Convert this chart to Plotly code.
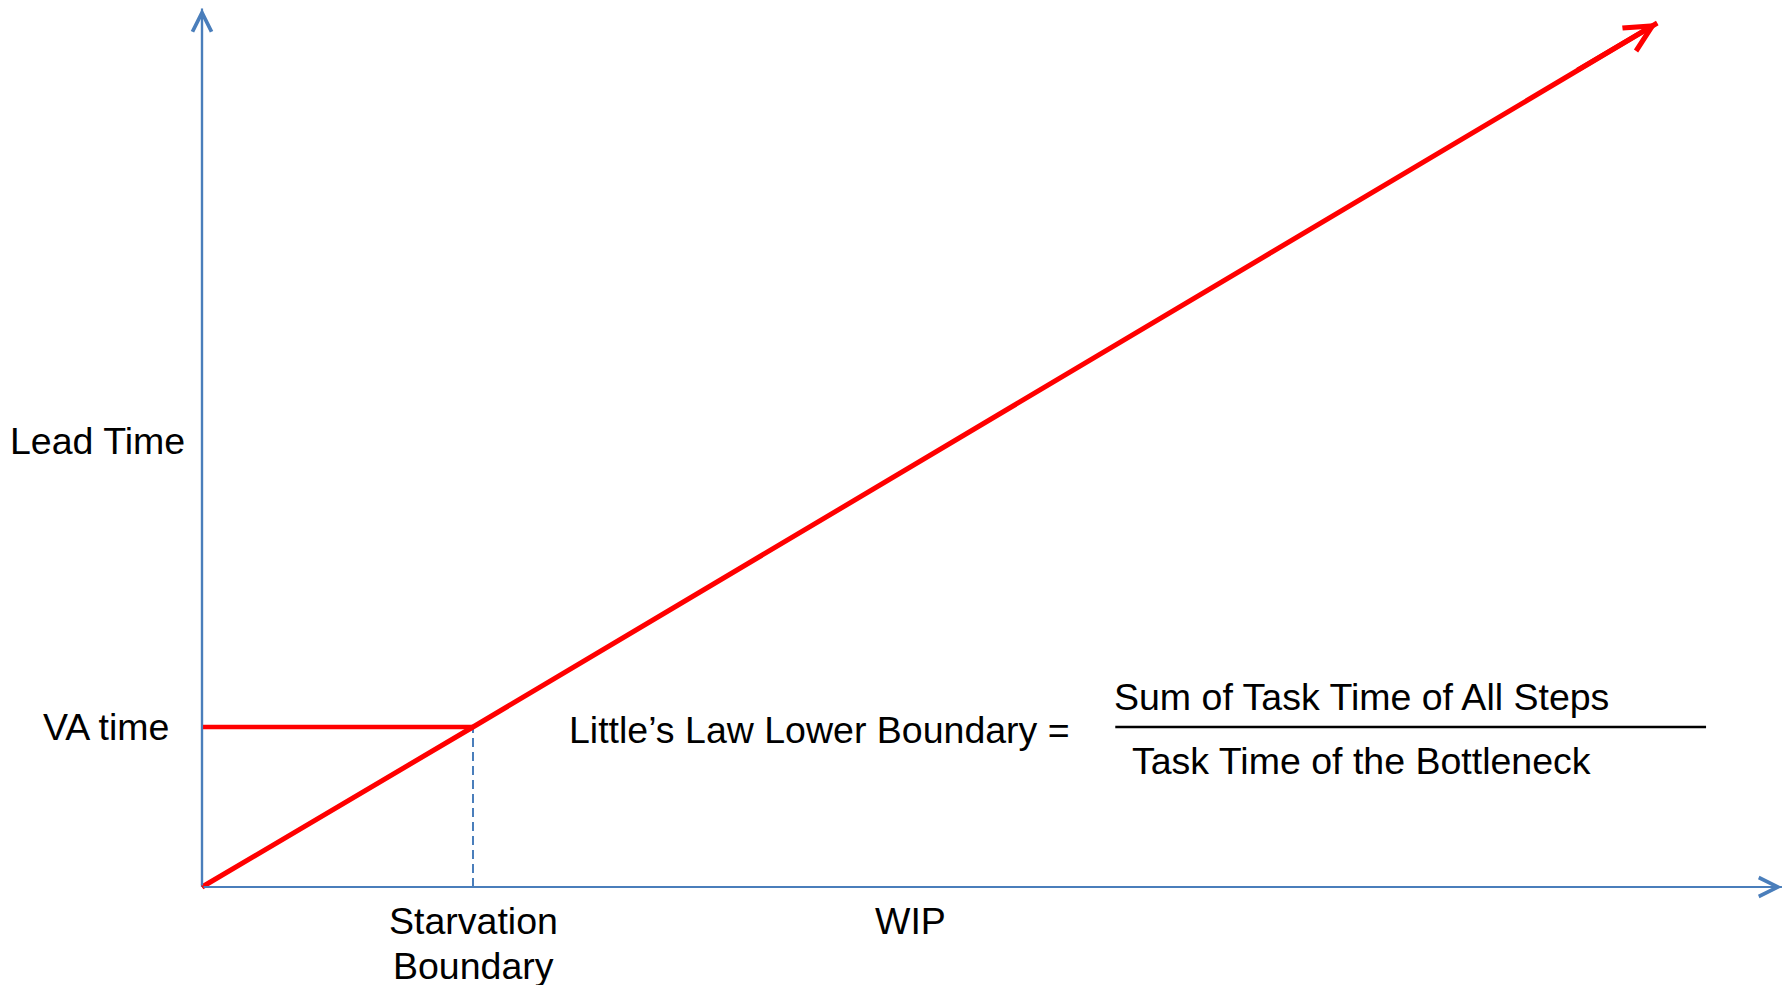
import plotly.graph_objects as go

# Conceptual units: starvation boundary WIP = 1, VA time = 1
wip_line = [0.0, 1.0, 5.37]          # Little's law lower-boundary line (LT = WIP)
lt_line = [0.0, 1.0, 5.40]
va_time = 1.0
starvation_wip = 1.0
x_axis_end = 5.83
y_axis_end = 5.49
fraction_x = [3.37, 5.55]

RED = "#FF0000"
BLUE = "#4A7EBB"
FONT = "Liberation Sans, Arial, sans-serif"
FS = 37.5

fig = go.Figure()

# Axis lines
fig.add_trace(go.Scatter(x=[0, x_axis_end], y=[0, 0], mode="lines",
                         line=dict(color=BLUE, width=2.2), hoverinfo="skip"))
fig.add_trace(go.Scatter(x=[0, 0], y=[0, y_axis_end], mode="lines",
                         line=dict(color=BLUE, width=2.2), hoverinfo="skip"))
# VA time horizontal line
fig.add_trace(go.Scatter(x=[0, starvation_wip], y=[va_time, va_time], mode="lines",
                         line=dict(color=RED, width=4.5), hoverinfo="skip"))
# Dashed starvation boundary
fig.add_trace(go.Scatter(x=[starvation_wip, starvation_wip], y=[0, va_time], mode="lines",
                         line=dict(color=BLUE, width=2, dash="9px,5px"), hoverinfo="skip"))
# Main red line
fig.add_trace(go.Scatter(x=wip_line, y=lt_line, mode="lines",
                         line=dict(color=RED, width=5), hoverinfo="skip"))
# Fraction bar
fig.add_trace(go.Scatter(x=fraction_x, y=[va_time, va_time], mode="lines",
                         line=dict(color="black", width=2.5), hoverinfo="skip"))

annotations = []
# Axes arrows
annotations.append(dict(x=x_axis_end, y=0, ax=0, ay=0, xref="x", yref="y", axref="x", ayref="y",
                        showarrow=True, arrowhead=5, arrowwidth=2.2, arrowsize=1.7,
                        arrowcolor=BLUE, text="", standoff=0))
annotations.append(dict(x=0, y=y_axis_end, ax=0, ay=0, xref="x", yref="y", axref="x", ayref="y",
                        showarrow=True, arrowhead=5, arrowwidth=2.2, arrowsize=1.7,
                        arrowcolor=BLUE, text="", standoff=0))
# Red arrowhead
annotations.append(dict(x=wip_line[-1], y=lt_line[-1], ax=wip_line[-1] - 0.3, ay=lt_line[-1] - 0.3,
                        xref="x", yref="y", axref="x", ayref="y",
                        showarrow=True, arrowhead=5, arrowwidth=5, arrowsize=1.05,
                        arrowcolor=RED, text="", standoff=0))

def label(text, x, y, xanchor="center"):
    annotations.append(dict(x=x, y=y, xref="x", yref="y", text=text, showarrow=False,
                            xanchor=xanchor, yanchor="middle",
                            font=dict(family=FONT, size=FS, color="black")))

label("Lead Time", -0.387, 2.79)
label("VA time", -0.354, 1.0)
label("Starvation", 1.0, -0.21)
label("Boundary", 1.0, -0.495)
label("WIP", 2.616, -0.21)
label("Little’s Law Lower Boundary =", 2.28, 0.98)
label("Sum of Task Time of All Steps", 4.279, 1.19)
label("Task Time of the Bottleneck", 4.279, 0.79)

fig.update_layout(
    width=1782, height=985,
    margin=dict(l=0, r=0, t=0, b=0),
    paper_bgcolor="white", plot_bgcolor="white",
    showlegend=False,
    annotations=annotations,
    xaxis=dict(range=[-202 / 271, 1580 / 271], visible=False, fixedrange=True),
    yaxis=dict(range=[-98 / 160, 887 / 160], visible=False, fixedrange=True),
)

fig.write_html("out.html", config={"displayModeBar": False},
               post_script="document.body.style.margin='0px';document.body.style.overflow='hidden';")
